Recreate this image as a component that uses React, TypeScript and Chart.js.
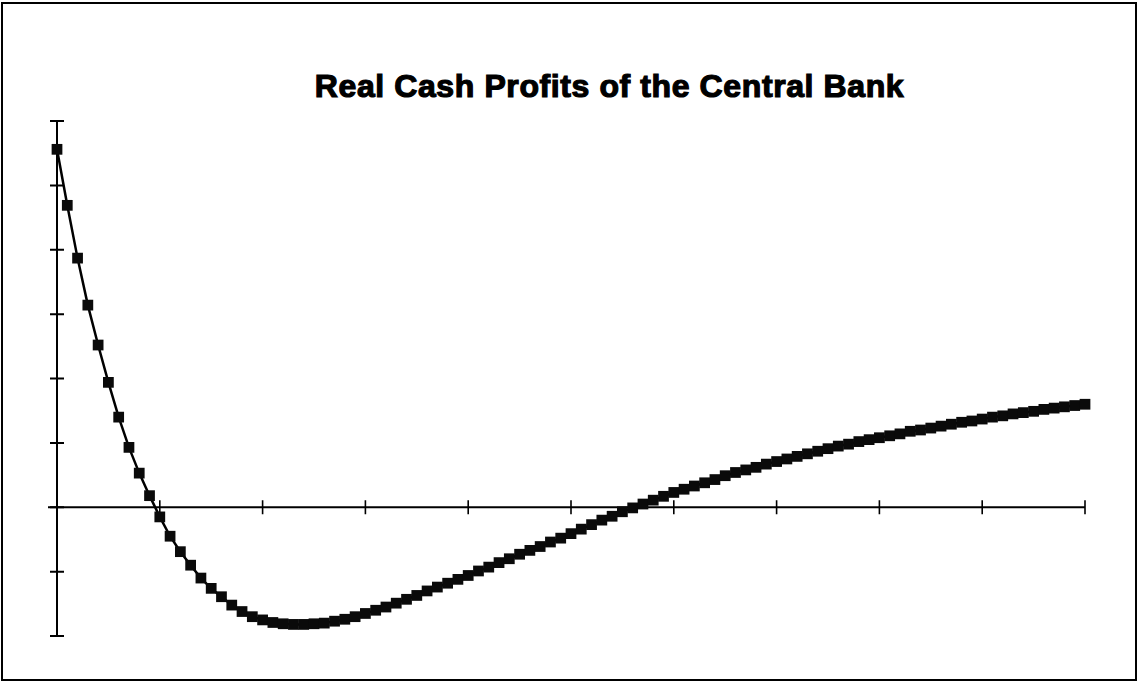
import React, { useEffect, useRef } from 'react';
import { Chart, registerables } from 'chart.js';

Chart.register(...registerables);

const chartTitle = 'Real Cash Profits of the Central Bank';

// period index along the horizontal axis (unlabelled in the original)
const periods: number[] = [
  0, 1, 2, 3, 4, 5, 6, 7, 8, 9,
  10, 11, 12, 13, 14, 15, 16, 17, 18, 19,
  20, 21, 22, 23, 24, 25, 26, 27, 28, 29,
  30, 31, 32, 33, 34, 35, 36, 37, 38, 39,
  40, 41, 42, 43, 44, 45, 46, 47, 48, 49,
  50, 51, 52, 53, 54, 55, 56, 57, 58, 59,
  60, 61, 62, 63, 64, 65, 66, 67, 68, 69,
  70, 71, 72, 73, 74, 75, 76, 77, 78, 79,
  80, 81, 82, 83, 84, 85, 86, 87, 88, 89,
  90, 91, 92, 93, 94, 95, 96, 97, 98, 99,
  100,
];

// real cash profits (in units of one y-axis tick)
const profits: number[] = [
  5.56, 4.69, 3.87, 3.14, 2.52, 1.94, 1.40, 0.93, 0.53, 0.18,
  -0.15, -0.45, -0.69, -0.90, -1.10, -1.26, -1.39, -1.52, -1.62, -1.70,
  -1.75, -1.79, -1.81, -1.82, -1.82, -1.81, -1.80, -1.77, -1.74, -1.70,
  -1.65, -1.60, -1.55, -1.49, -1.43, -1.37, -1.30, -1.24, -1.18, -1.12,
  -1.06, -0.99, -0.93, -0.86, -0.80, -0.73, -0.67, -0.61, -0.54, -0.48,
  -0.41, -0.34, -0.27, -0.20, -0.14, -0.07, -0.01, 0.05, 0.11, 0.17,
  0.23, 0.28, 0.33, 0.38, 0.43, 0.49, 0.54, 0.58, 0.62, 0.67,
  0.71, 0.75, 0.79, 0.83, 0.87, 0.91, 0.95, 0.98, 1.02, 1.05,
  1.08, 1.11, 1.14, 1.18, 1.20, 1.23, 1.26, 1.29, 1.32, 1.34,
  1.37, 1.40, 1.42, 1.45, 1.47, 1.49, 1.52, 1.54, 1.56, 1.58,
  1.60,
];

const xTicks: number[] = [0, 10, 20, 30, 40, 50, 60, 70, 80, 90, 100];
const yTicks: number[] = [-2, -1, 0, 1, 2, 3, 4, 5, 6];

const crossAxes = {
  id: 'crossAxes',
  beforeDatasetsDraw(chart: any) {
    const { ctx, scales } = chart;
    const xs = scales.x;
    const ys = scales.y;
    const x0 = xs.getPixelForValue(xTicks[0]);
    const x1 = xs.getPixelForValue(xTicks[xTicks.length - 1]);
    const y0 = ys.getPixelForValue(0);
    const yTop = ys.getPixelForValue(yTicks[yTicks.length - 1]);
    const yBot = ys.getPixelForValue(yTicks[0]);
    ctx.save();
    ctx.strokeStyle = '#000';
    ctx.lineCap = 'butt';
    // vertical axis
    ctx.lineWidth = 2;
    ctx.beginPath();
    ctx.moveTo(x0, yTop);
    ctx.lineTo(x0, yBot);
    ctx.stroke();
    ctx.beginPath();
    yTicks.forEach((v) => {
      const py = ys.getPixelForValue(v);
      ctx.moveTo(x0 - 7, py);
      ctx.lineTo(x0 + 7, py);
    });
    ctx.stroke();
    // horizontal axis at zero
    ctx.lineWidth = 2.2;
    ctx.beginPath();
    ctx.moveTo(x0 - 9, y0);
    ctx.lineTo(x1, y0);
    ctx.stroke();
    ctx.lineWidth = 1.6;
    ctx.beginPath();
    xTicks.forEach((v, i) => {
      if (i === 0) return;
      const px = xs.getPixelForValue(v);
      ctx.moveTo(px, y0 - 7);
      ctx.lineTo(px, y0 + 7);
    });
    ctx.stroke();
    ctx.restore();
  },
};

export default function App() {
  const canvasRef = useRef<HTMLCanvasElement | null>(null);

  useEffect(() => {
    if (!canvasRef.current) return;
    const chart = new Chart(canvasRef.current, {
      type: 'line',
      data: {
        datasets: [
          {
            label: 'Real cash profits',
            data: periods.map((p, i) => ({ x: p, y: profits[i] })),
            borderColor: '#000',
            backgroundColor: '#000',
            borderWidth: 2.5,
            pointStyle: 'rect',
            pointRadius: 7.6,
            pointBackgroundColor: '#0a0a0a',
            pointBorderColor: '#0a0a0a',
            pointBorderWidth: 0,
            tension: 0,
            clip: false,
          } as any,
        ],
      },
      options: {
        animation: false,
        responsive: true,
        maintainAspectRatio: false,
        layout: { padding: { left: 57, right: 54, top: 121, bottom: 47 } },
        plugins: {
          legend: { display: false },
          title: { display: false },
          tooltip: { enabled: false },
        },
        scales: {
          x: { type: 'linear', min: 0, max: 100, display: false },
          y: { type: 'linear', min: -2, max: 6, display: false },
        },
      },
      plugins: [crossAxes],
    });
    return () => chart.destroy();
  }, []);

  return (
    <div
      style={{
        position: 'fixed',
        left: 0,
        top: 0,
        width: 1139,
        height: 683,
        background: '#fff',
        overflow: 'hidden',
      }}
    >
      <div
        style={{
          position: 'absolute',
          left: 1,
          top: 2,
          width: 1136,
          height: 679,
          border: '2px solid #000',
          boxSizing: 'border-box',
        }}
      />
      <div
        style={{
          position: 'absolute',
          left: 0,
          top: 68,
          width: 1139,
          paddingLeft: 80,
          boxSizing: 'border-box',
          textAlign: 'center',
          fontFamily: '"Liberation Sans", Arial, sans-serif',
          fontWeight: 'bold',
          fontSize: 32,
          lineHeight: '36px',
          letterSpacing: '0.6px',
          color: '#000',
          WebkitTextStroke: '1.2px #000',
        }}
      >
        {chartTitle}
      </div>
      <div style={{ position: 'absolute', left: 0, top: 0, width: 1139, height: 683 }}>
        <canvas ref={canvasRef} />
      </div>
    </div>
  );
}
